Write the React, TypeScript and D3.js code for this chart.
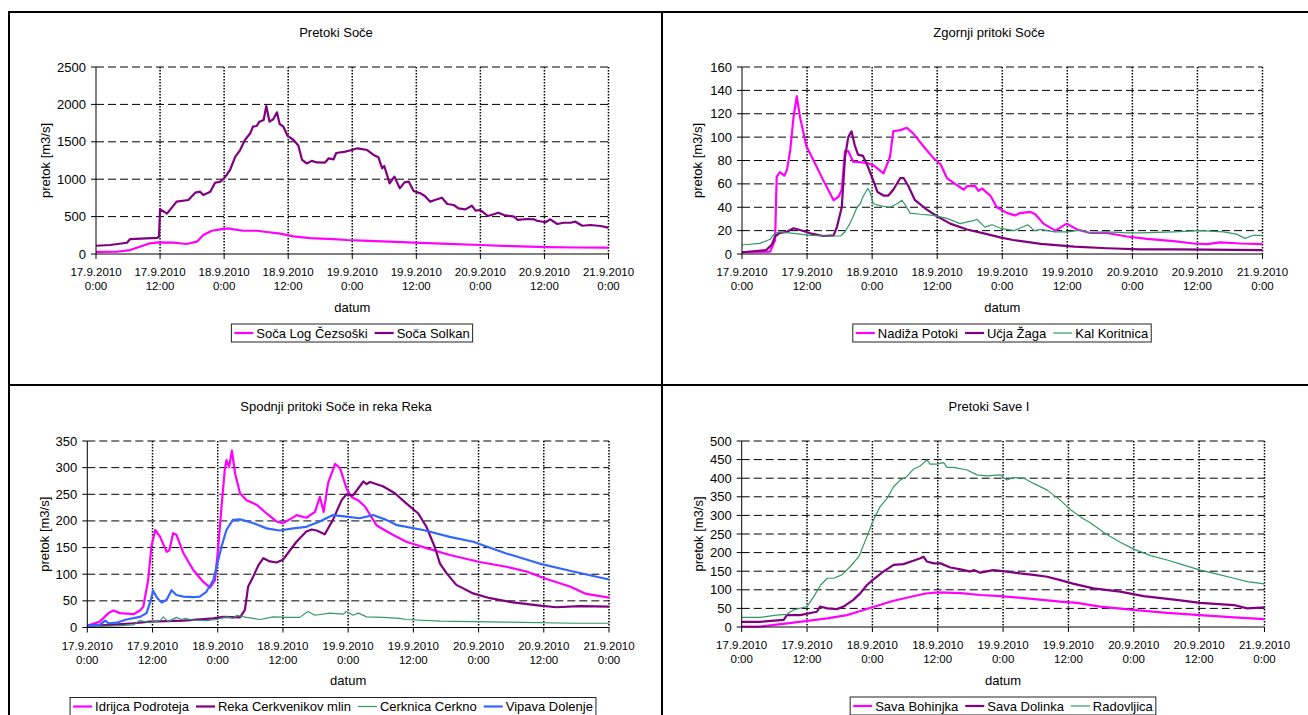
import * as d3 from "d3";

type Pt = [number, number]; // [hours since 17.9.2010 0:00, pretok m3/s]

// x axis: one tick every 12 hours
const tickHours = [0, 12, 24, 36, 48, 60, 72, 84, 96];
const tickDays = ["17.9.2010", "17.9.2010", "18.9.2010", "18.9.2010", "19.9.2010", "19.9.2010", "20.9.2010", "20.9.2010", "21.9.2010"];
const tickTimes = ["0:00", "12:00", "0:00", "12:00", "0:00", "12:00", "0:00", "12:00", "0:00"];

// Pretoki Soče
const socaLogCezsoski: Pt[] = [[0, 28], [3.9, 30], [6.4, 53], [8.2, 98], [10.1, 143], [11.7, 156], [14.5, 151], [17, 134], [18.9, 165], [20.1, 254], [21.7, 311], [23.3, 330], [24.8, 343], [25.8, 330], [27.6, 311], [30.1, 311], [32, 294], [34.5, 272], [37, 235], [40.1, 213], [44.5, 200], [47, 187], [51, 175], [55, 165], [59.5, 151], [66, 135], [72, 120], [78, 105], [84.5, 92], [90, 87], [96, 84]];
const socaSolkan: Pt[] = [[0, 110], [2.6, 120], [5.8, 150], [6.4, 200], [11.4, 215], [11.8, 230], [12, 600], [13.3, 540], [15.1, 700], [17.3, 722], [18.6, 820], [19.5, 833], [20.1, 789], [21.4, 833], [22.3, 953], [23.3, 967], [24, 1012], [25.1, 1123], [26.1, 1301], [27, 1390], [27.9, 1524], [28.9, 1614], [29.4, 1702], [30.1, 1711], [30.6, 1769], [31.4, 1792], [31.9, 1979], [32.5, 1769], [33.2, 1801], [33.9, 1894], [34.4, 1738], [35.1, 1702], [35.9, 1578], [37, 1524], [37.9, 1450], [38.6, 1257], [39.5, 1210], [40.4, 1245], [41.4, 1224], [42.9, 1222], [43.6, 1279], [44.5, 1266], [45, 1350], [46.7, 1368], [47.9, 1390], [49, 1413], [50.8, 1390], [52, 1324], [52.9, 1293], [53.6, 1146], [54, 1177], [55, 945], [55.9, 1034], [56.9, 878], [57.8, 958], [58.6, 967], [59.5, 842], [60.8, 811], [61.6, 775], [62.6, 700], [63.9, 731], [64.8, 753], [65.8, 668], [67, 655], [67.9, 610], [69.2, 597], [70.4, 646], [71.1, 579], [72, 588], [73.4, 508], [75.4, 552], [76.4, 521], [78.3, 499], [79, 455], [80.8, 468], [82, 464], [82.6, 445], [84.2, 424], [85.1, 464], [86.4, 401], [87.6, 418], [88.9, 418], [89.8, 432], [91.1, 378], [92.6, 388], [94.5, 374], [96, 352]];

// Zgornji pritoki Soče
const nadizaPotoki: Pt[] = [[0, 1.5], [5.2, 2], [6.1, 12], [6.4, 66], [7, 70], [7.8, 67], [8.3, 72], [8.9, 89], [9.5, 117], [10.1, 135], [10.7, 117], [11.9, 92], [13.2, 80], [15, 63], [16.9, 46], [17.8, 49], [18.4, 55], [19, 88], [19.6, 88], [20.5, 79], [23, 78], [24.2, 76], [26.1, 69], [27.3, 83], [27.9, 105], [29.2, 106], [30.4, 108], [31.6, 103], [33.5, 92], [35.3, 82], [36.6, 77], [37.8, 65], [39.3, 60], [40.9, 55], [41.5, 58], [43, 58], [43.6, 54], [44.3, 56], [45.8, 50], [47, 40], [48.9, 35], [50.4, 33], [51.3, 35], [53.2, 36], [54.1, 34], [55.6, 26], [57.8, 20], [59.9, 26], [61.8, 21], [64.2, 18], [67.3, 18], [71, 15], [74.7, 13], [79.6, 11], [83.3, 9], [85.8, 8.5], [88.2, 10], [91.9, 9], [96, 8.5]];
const ucjaZaga: Pt[] = [[0, 1.5], [4.5, 3.4], [5.5, 8], [6.1, 15], [7, 18], [8.3, 19], [9.5, 22], [10.7, 20.5], [12.6, 17.7], [15, 15.4], [16.9, 16], [17.5, 23], [18.4, 40], [19, 83], [19.6, 100], [20.2, 105], [20.8, 93], [21.4, 85], [22.3, 84], [23.2, 75], [24.2, 63], [25, 53], [26.1, 50], [27, 50], [27.9, 55], [29.2, 65], [29.8, 65], [30.7, 58], [31.9, 46], [34.1, 38], [35.9, 32.5], [38.4, 26], [41.5, 21], [44.6, 17.7], [47.8, 14], [50, 12], [55.1, 8.6], [61.3, 6.3], [67.3, 4.9], [73.5, 4], [79.6, 4], [85.8, 3.8], [96, 3.4]];
const kalKoritnica: Pt[] = [[0, 7.7], [3.3, 9.1], [5.2, 12.6], [6.1, 18], [7, 19], [9.5, 17.7], [12.6, 16], [15.7, 15.4], [18.2, 15.4], [19, 19], [19.9, 26], [20.5, 32], [21.2, 40], [21.8, 43], [22.3, 49], [23.2, 56], [23.7, 52], [24.2, 43], [25.8, 41], [27.3, 40], [28.6, 43], [29.5, 46], [30.1, 42], [31, 35], [32.9, 34], [35.3, 33], [37.8, 30.5], [40.2, 26], [42.7, 28.5], [43.3, 29.7], [44.8, 23], [46.1, 25], [47.7, 22], [50.2, 20], [52.7, 25], [53.9, 20], [55.1, 21], [57.6, 19], [60, 19], [62.5, 20.5], [64.2, 18], [67.3, 19], [71, 18], [73.5, 18], [79.6, 19], [84.5, 20], [88.8, 19], [91.2, 17], [92.8, 13.4], [94.3, 16], [96, 16]];

// Spodnji pritoki Soče in reka Reka
const idrijcaPodroteja: Pt[] = [[0, 3], [2.3, 11], [3.9, 27], [4.8, 32], [6, 27], [8.5, 25], [9.7, 32], [10.3, 39], [11.2, 89], [11.8, 152], [12.5, 183], [13.4, 170], [14.6, 142], [15.1, 145], [15.8, 177], [16.4, 174], [17.7, 139], [19.5, 108], [21.3, 86], [22.6, 75], [23.5, 89], [24.1, 152], [24.7, 227], [25.3, 296], [25.6, 314], [26.1, 301], [26.6, 332], [27.2, 289], [28.1, 252], [29.3, 239], [31.2, 230], [33, 214], [34.8, 199], [36, 196], [37.3, 203], [38.5, 211], [40.3, 206], [41.9, 217], [42.8, 245], [43.5, 217], [44.3, 271], [45.6, 307], [46.5, 299], [47.7, 261], [48.6, 245], [49.8, 239], [51.1, 227], [53.2, 192], [55.7, 177], [58.7, 161], [62.4, 149], [66.7, 136], [72.2, 123], [77.1, 114], [80.8, 105], [84.5, 91], [88.8, 77], [91.8, 63], [96, 56]];
const rekaCerkvenikovMlin: Pt[] = [[0, 3], [4.2, 5], [8.5, 8], [11.5, 11], [17.7, 13], [23.2, 17], [25, 20], [28.1, 19], [29, 33], [29.6, 77], [30.5, 95], [31.5, 117], [32.4, 130], [33.6, 124], [34.8, 122], [36, 127], [37.3, 145], [38.5, 161], [40.3, 180], [41.3, 184], [42.2, 182], [43.7, 175], [45.2, 202], [46.8, 239], [47.7, 250], [48.9, 248], [50.8, 274], [51.4, 269], [52, 273], [54.4, 265], [56.6, 252], [58.7, 233], [60.9, 214], [62.4, 189], [63.9, 152], [64.9, 120], [66.1, 102], [67.9, 80], [71, 64], [74.1, 55], [78.3, 47], [83.3, 41], [86.3, 38], [90.6, 40], [96, 39]];
const cerknicaCerkno: Pt[] = [[0, 1.5], [5.4, 3], [8.5, 5], [9.7, 13], [11.5, 9], [13.4, 13], [14, 20], [14.9, 11], [16.4, 19], [17.4, 15], [17.9, 17], [19.5, 14], [21.9, 13], [23.8, 15], [25.6, 20], [26.9, 17], [27.5, 23], [29.3, 19], [31.8, 15], [34.2, 20], [36.7, 19], [39.1, 19], [40.6, 30], [41.9, 23], [44.6, 27], [47.1, 25], [47.7, 30], [48.9, 23], [49.9, 27], [51.4, 20], [54.4, 19], [57.5, 17], [58.7, 15], [64.9, 12], [77.1, 10], [89.4, 8], [96, 8]];
const vipavaDolenje: Pt[] = [[0, 3], [2.3, 5], [3.3, 13], [3.9, 8], [5.4, 9], [7.2, 15], [9.7, 20], [10.9, 27], [11.7, 52], [12.1, 69], [12.9, 55], [13.7, 47], [14.6, 52], [15.5, 70], [16.4, 61], [17.7, 58], [19.5, 57], [20.7, 58], [21.9, 67], [23.2, 89], [23.8, 114], [24.7, 152], [25.6, 183], [26.8, 202], [28.1, 203], [30.5, 196], [33, 186], [35.4, 182], [37.9, 186], [40.3, 189], [42.8, 199], [45.2, 211], [47.7, 208], [50.1, 205], [52.6, 211], [55, 202], [57, 192], [61.8, 183], [66.7, 170], [71, 161], [77.1, 139], [83.2, 120], [89.4, 105], [96, 90]];

// Pretoki Save I
const savaBohinjka: Pt[] = [[0, 1], [3.4, 1], [9.5, 12], [15.7, 23], [19.3, 32], [21.8, 43], [24, 53], [27.7, 70], [31.3, 82], [33.8, 90], [36, 93], [40.2, 91], [43.8, 86], [47.5, 83], [52.3, 77], [58.5, 68], [61.6, 65], [65.8, 55], [71.9, 46], [78.1, 38], [84.2, 32], [90.4, 26], [96, 21]];
const savaDolinka: Pt[] = [[0, 14], [3.4, 14], [7.7, 19], [8.3, 32], [10.7, 32], [13.8, 41], [14.4, 55], [15.7, 50], [17.5, 48], [18.7, 55], [20.5, 73], [21.8, 91], [23, 113], [24.2, 128], [26, 149], [27.9, 167], [29.7, 169], [31.5, 178], [32.8, 185], [33.4, 189], [34, 176], [35.3, 171], [36.5, 171], [38.3, 160], [40.2, 155], [42, 149], [42.6, 153], [43.8, 146], [46.2, 153], [48.7, 149], [51.1, 144], [53.6, 140], [56.1, 135], [58.5, 126], [61, 116], [64.6, 104], [69.5, 95], [73.8, 83], [79.8, 73], [84.2, 65], [90.4, 59], [92.8, 50], [96, 53]];
const radovljica: Pt[] = [[0, 26], [3.4, 26], [6.4, 32], [8.3, 34], [9.5, 46], [12, 55], [13.2, 81], [14.5, 113], [15.7, 131], [16.9, 131], [18.4, 140], [19.9, 162], [21.5, 189], [23, 243], [24.2, 288], [25.4, 323], [26.7, 346], [27.9, 377], [29.1, 395], [30.3, 404], [31.5, 424], [32.8, 433], [34, 449], [34.6, 438], [35.8, 438], [37.1, 442], [37.7, 429], [38.9, 429], [41.4, 422], [43.2, 409], [45, 406], [47.5, 409], [48.7, 395], [49.9, 402], [51.8, 400], [53.6, 386], [56.1, 368], [58.5, 341], [60.4, 315], [62.2, 296], [64, 280], [66.9, 250], [69.5, 228], [71.9, 210], [75.1, 192], [78.1, 180], [80.6, 169], [84.2, 153], [87.3, 142], [90.4, 131], [92.8, 122], [96, 116]];

const MAGENTA = "#ff00ff";
const PURPLE = "#800080";
const GREEN = "#339966";
const BLUE = "#3366ff";
const FONT = "'Liberation Sans', Arial, sans-serif";

type Series = { name: string; color: string; width: number; data: Pt[] };
type PanelCfg = {
  title: string; titleX: number;
  left: number; right: number; top: number; bottom: number;
  yMax: number; yStep: number; labelX: number; legendX: number;
  series: Series[];
};

const panels: PanelCfg[] = [
  {
    title: "Pretoki Soče", titleX: 336, left: 96, right: 608.5, top: 67, bottom: 254,
    yMax: 2500, yStep: 500, labelX: 45, legendX: 352,
    series: [
      { name: "Soča Log Čezsoški", color: MAGENTA, width: 2.2, data: socaLogCezsoski },
      { name: "Soča Solkan", color: PURPLE, width: 2.2, data: socaSolkan },
    ],
  },
  {
    title: "Zgornji pritoki Soče", titleX: 989, left: 742, right: 1262.5, top: 67, bottom: 254,
    yMax: 160, yStep: 20, labelX: 697, legendX: 1002,
    series: [
      { name: "Nadiža Potoki", color: MAGENTA, width: 2.2, data: nadizaPotoki },
      { name: "Učja Žaga", color: PURPLE, width: 2.2, data: ucjaZaga },
      { name: "Kal Koritnica", color: GREEN, width: 1.2, data: kalKoritnica },
    ],
  },
  {
    title: "Spodnji pritoki Soče in reka Reka", titleX: 336, left: 87.3, right: 609, top: 441, bottom: 627.5,
    yMax: 350, yStep: 50, labelX: 44, legendX: 333,
    series: [
      { name: "Idrijca Podroteja", color: MAGENTA, width: 2.2, data: idrijcaPodroteja },
      { name: "Reka Cerkvenikov mlin", color: PURPLE, width: 2.2, data: rekaCerkvenikovMlin },
      { name: "Cerknica Cerkno", color: GREEN, width: 1.2, data: cerknicaCerkno },
      { name: "Vipava Dolenje", color: BLUE, width: 2.2, data: vipavaDolenje },
    ],
  },
  {
    title: "Pretoki Save I", titleX: 989, left: 741.7, right: 1264.5, top: 441, bottom: 627,
    yMax: 500, yStep: 50, labelX: 698, legendX: 1003,
    series: [
      { name: "Sava Bohinjka", color: MAGENTA, width: 2.2, data: savaBohinjka },
      { name: "Sava Dolinka", color: PURPLE, width: 2.2, data: savaDolinka },
      { name: "Radovljica", color: GREEN, width: 1.2, data: radovljica },
    ],
  },
];

let ctx: CanvasRenderingContext2D | null = null;
function textWidth(s: string, size: number) {
  if (!ctx) ctx = document.createElement("canvas").getContext("2d");
  if (!ctx) return s.length * size * 0.55;
  ctx.font = `${size}px ${FONT}`;
  return ctx.measureText(s).width;
}

function Legend({ cfg }: { cfg: PanelCfg }) {
  const size = 13;
  const items: { s: Series; x: number }[] = [];
  let w = 3;
  cfg.series.forEach((s, i) => {
    if (i > 0) w += 7;
    items.push({ s, x: w });
    w += 19 + 3 + textWidth(s.name, size);
  });
  w += 3;
  const x0 = cfg.legendX - w / 2;
  const y0 = cfg.bottom + 70;
  return (
    <g>
      <rect x={x0} y={y0} width={w} height={18} fill="white" stroke="#222" strokeWidth={1} />
      {items.map(({ s, x }) => (
        <g key={s.name}>
          <line x1={x0 + x} x2={x0 + x + 19} y1={y0 + 9} y2={y0 + 9} stroke={s.color} strokeWidth={s.width} />
          <text x={x0 + x + 22} y={y0 + 13.5} fontSize={size}>{s.name}</text>
        </g>
      ))}
    </g>
  );
}

function Panel({ cfg }: { cfg: PanelCfg }) {
  const x = d3.scaleLinear().domain([0, 96]).range([cfg.left, cfg.right]);
  const y = d3.scaleLinear().domain([0, cfg.yMax]).range([cfg.bottom, cfg.top]);
  const yTicks = d3.range(0, cfg.yMax + cfg.yStep / 2, cfg.yStep);
  const line = d3.line<Pt>().x(d => x(d[0])).y(d => y(d[1]));

  return (
    <g fontFamily={FONT} fill="#000">
      <text x={cfg.titleX} y={cfg.top - 30} fontSize={13} textAnchor="middle">{cfg.title}</text>

      {/* horizontal dashed gridlines */}
      {yTicks.slice(1).map(t => (
        <line key={t} x1={cfg.left} x2={cfg.right} y1={y(t)} y2={y(t)} stroke="#000" strokeWidth={1} strokeDasharray="8 4" />
      ))}
      {/* vertical dotted gridlines */}
      {tickHours.slice(1).map(h => (
        <line key={h} x1={x(h)} x2={x(h)} y1={cfg.top} y2={cfg.bottom} stroke="#000" strokeWidth={1.5} strokeDasharray="1.5 1.5" />
      ))}

      {cfg.series.map(s => (
        <path key={s.name} d={line(s.data) ?? ""} fill="none" stroke={s.color} strokeWidth={s.width} strokeLinejoin="round" />
      ))}

      {/* axes */}
      <line x1={cfg.left} x2={cfg.left} y1={cfg.top} y2={cfg.bottom} stroke="#000" />
      <line x1={cfg.left} x2={cfg.right} y1={cfg.bottom} y2={cfg.bottom} stroke="#000" />
      {yTicks.map(t => (
        <g key={t}>
          <line x1={cfg.left - 5} x2={cfg.left} y1={y(t)} y2={y(t)} stroke="#000" />
          <text x={cfg.left - 10} y={y(t) + 4.5} fontSize={13} textAnchor="end">{t}</text>
        </g>
      ))}
      {tickHours.map((h, i) => (
        <g key={h}>
          <line x1={x(h)} x2={x(h)} y1={cfg.bottom} y2={cfg.bottom + 5} stroke="#000" />
          <text x={x(h)} y={cfg.bottom + 22} fontSize={11.5} textAnchor="middle">{tickDays[i]}</text>
          <text x={x(h)} y={cfg.bottom + 36} fontSize={11.5} textAnchor="middle">{tickTimes[i]}</text>
        </g>
      ))}

      <text x={(cfg.left + cfg.right) / 2} y={cfg.bottom + 57.5} fontSize={13} textAnchor="middle">datum</text>
      <text transform={`translate(${cfg.labelX + 4.5},${(cfg.top + cfg.bottom) / 2}) rotate(-90)`} fontSize={13} textAnchor="middle">pretok [m3/s]</text>

      <Legend cfg={cfg} />
    </g>
  );
}

export default function App() {
  return (
    <svg width={1308} height={715} style={{ position: "absolute", left: 0, top: 0, background: "white" }}>
      <rect x={0} y={0} width={1308} height={715} fill="white" />
      {panels.map(p => <Panel key={p.title} cfg={p} />)}
      {/* chart frames */}
      <line x1={9} x2={1308} y1={12} y2={12} stroke="#000" strokeWidth={2} />
      <line x1={9} x2={9} y1={11} y2={715} stroke="#000" strokeWidth={2} />
      <line x1={662} x2={662} y1={11} y2={715} stroke="#000" strokeWidth={2} />
      <line x1={8} x2={1308} y1={385} y2={385} stroke="#000" strokeWidth={2} />
    </svg>
  );
}
